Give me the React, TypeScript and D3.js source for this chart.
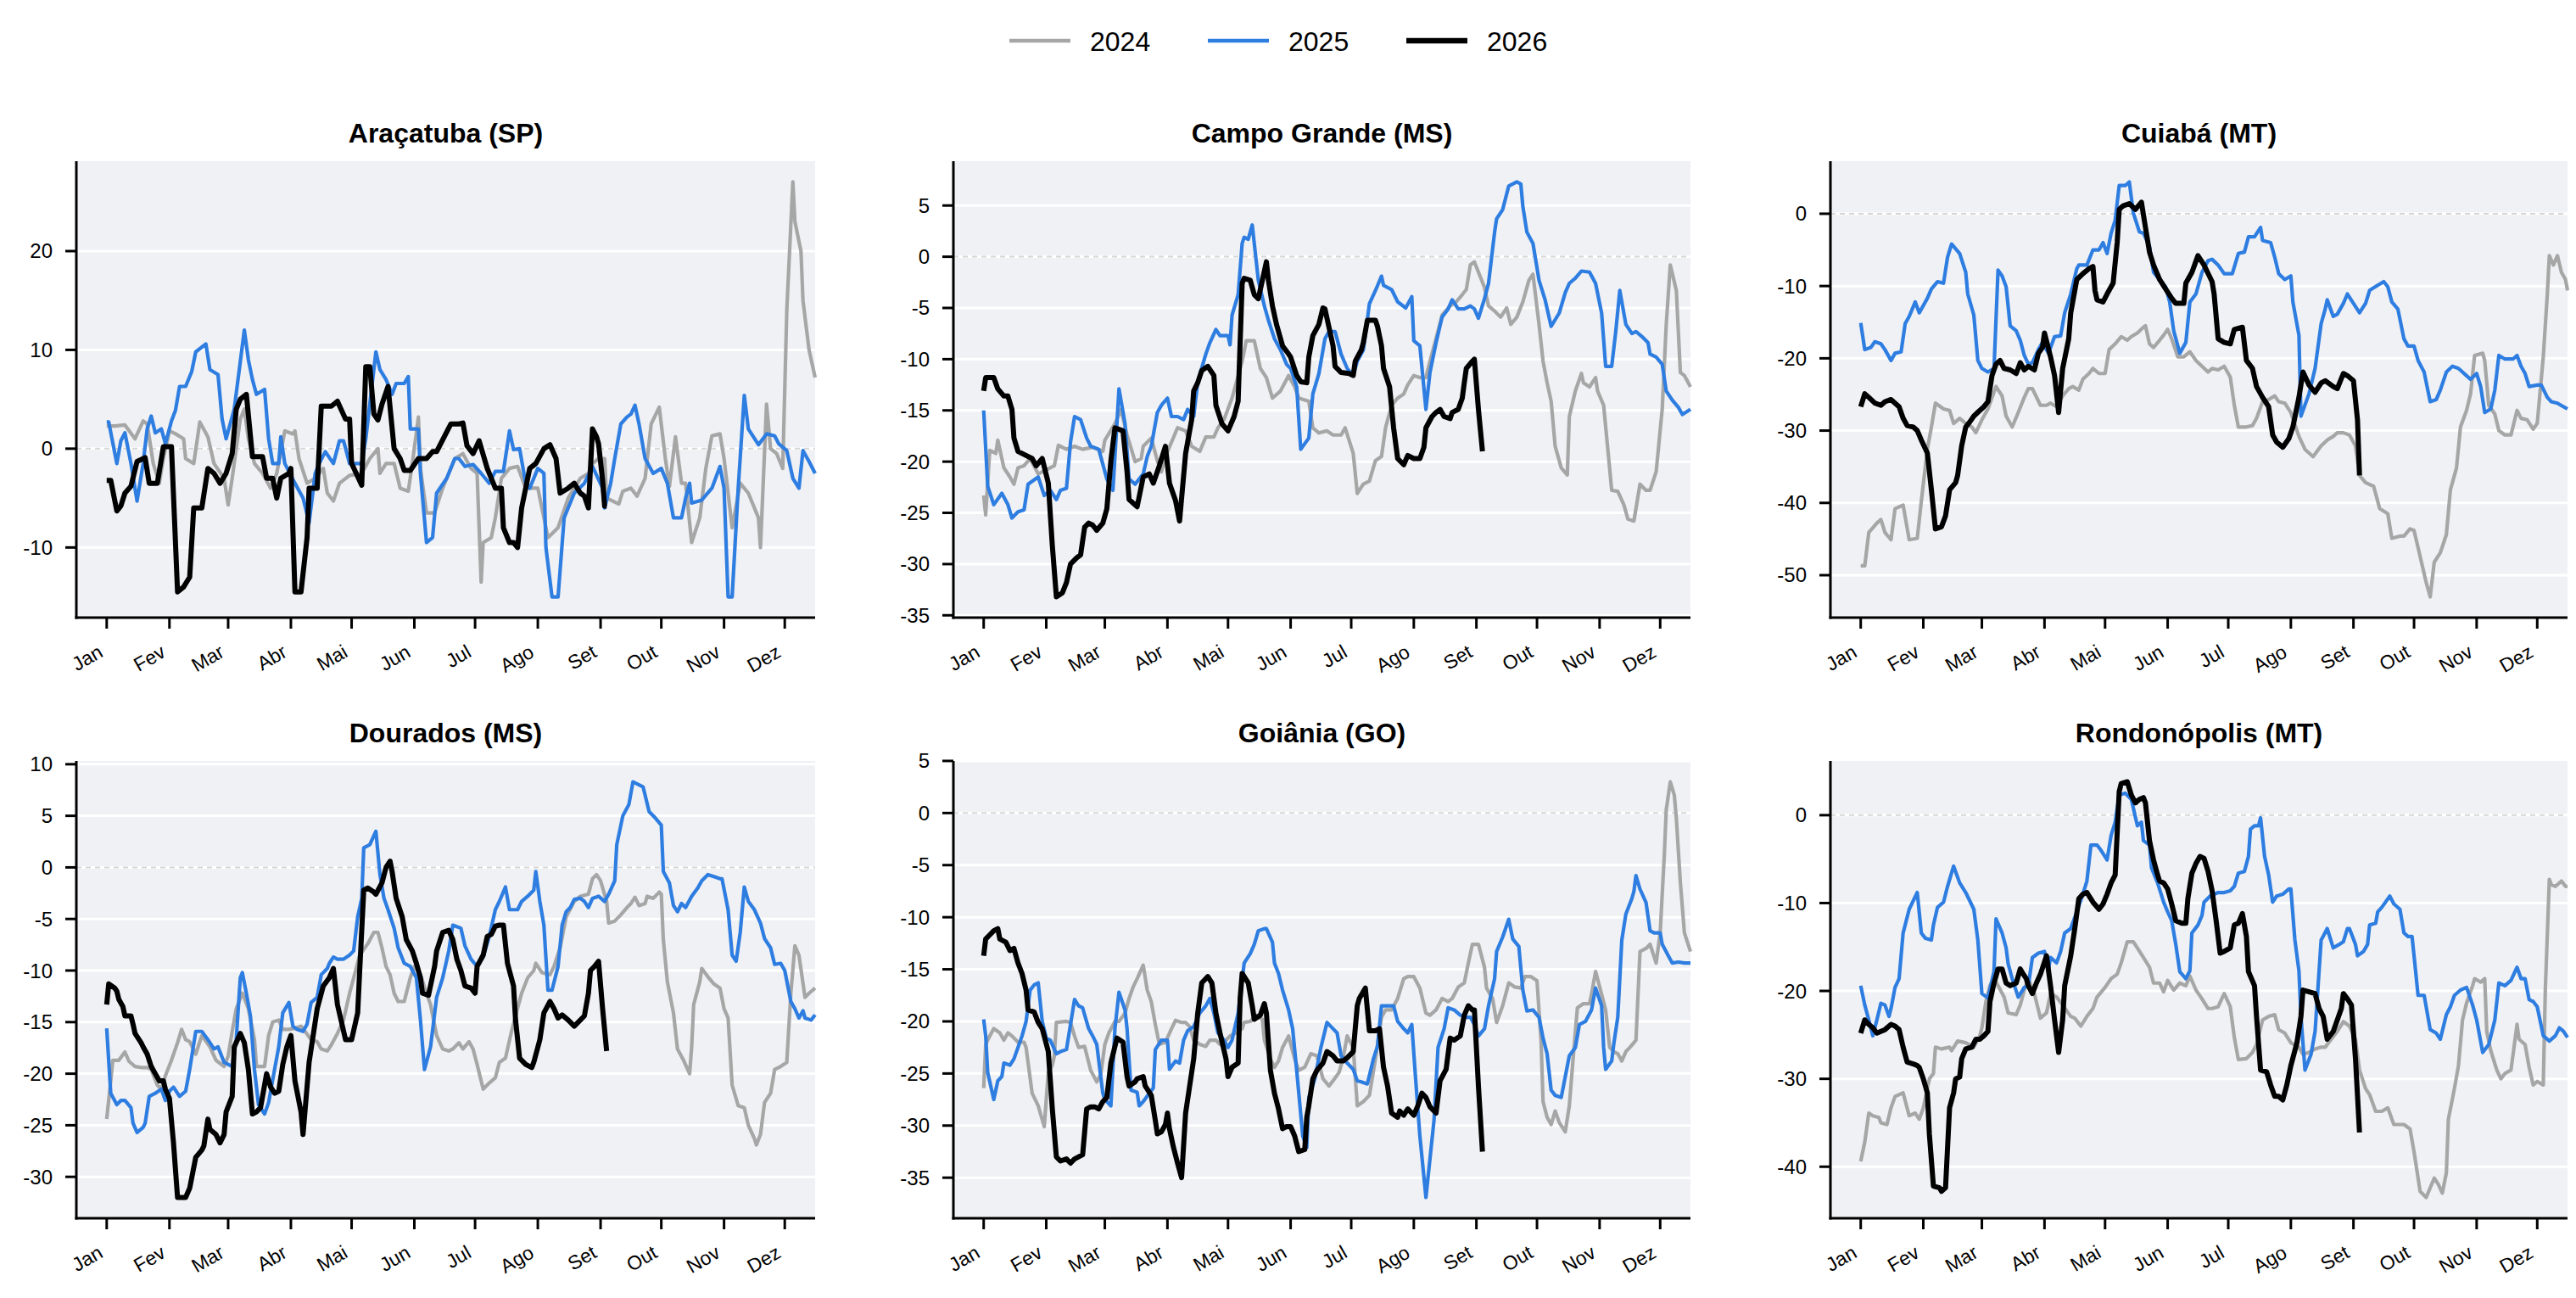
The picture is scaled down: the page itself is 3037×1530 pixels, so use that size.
import React from 'react';
import * as d3 from 'd3';

type Pt = [number, number];

const years = ['2024', '2025', '2026'];
const seriesColors = ['#a6a6a6', '#2e7de1', '#000000'];
const seriesWidths = [4.2, 4.2, 6];
const monthLabels = ['Jan', 'Fev', 'Mar', 'Abr', 'Mai', 'Jun', 'Jul', 'Ago', 'Set', 'Out', 'Nov', 'Dez'];
const monthStartDays = [0, 31, 60, 91, 121, 152, 182, 213, 244, 274, 305, 335];
const cityNames = ['Araçatuba (SP)', 'Campo Grande (MS)', 'Cuiabá (MT)', 'Dourados (MS)', 'Goiânia (GO)', 'Rondonópolis (MT)'];
const yTickSteps = [10, 5, 10, 5, 5, 10];
const xDomain: [number, number] = [-15, 350];

// ---- Araçatuba (SP) ----
const aracatuba2024: Pt[] = [[0,2.3],[4,2.3],[9,2.4],[14,1],[18,2.8],[20,2.5],[23,-1.5],[26,-3.5],[28,-1],[31,1.8],[34,1.5],[38,1],[39,-1],[43,-1.5],[46,2.7],[50,1.2],[53,-1.5],[58,-3],[60,-5.7],[62,-3],[66,3],[68,4],[70,1],[73,-1.5],[77,-2.5],[81,-4],[84,-2.5],[88,1.8],[92,1.5],[93,1.8],[95,-1],[99,-3.5],[103,-3],[107,-2],[109,-4.5],[112,-5.3],[115,-3.5],[120,-2.7],[126,-2.5],[130,-1],[134,0],[135,-2.5],[138,-1.5],[142,-1.5],[145,-4],[149,-4.3],[151,-1.5],[154,3.2],[155,-2],[158,-6.5],[162,-6.5],[166,-4],[172,-1],[176,-0.5],[180,-2],[183,-2.5],[185,-13.5],[186,-9.5],[190,-9],[192,-7],[195,-3],[199,-2],[203,-1.8],[207,-4],[213,-4],[218,-9],[223,-8],[228,-5],[234,-3],[238,-2.5],[240,-1.5],[243,-1],[246,-1],[247,-5],[253,-5.6],[255,-4.3],[259,-4],[262,-4.8],[266,-3],[269,2.5],[273,4.2],[276,-1],[278,-3.8],[281,1.2],[284,-3.5],[286,-3.5],[289,-9.5],[293,-7],[296,-2],[299,1.3],[303,1.5],[305,-1],[309,-8],[313,-3.5],[317,-4.5],[322,-7],[323,-10],[326,4.5],[328,0],[331,-0.5],[334,-2],[336,14],[339,27],[340,23],[343,20],[344,15],[347,10],[350,7.2]];
const aracatuba2025: Pt[] = [[0,2.7],[1,2.7],[5,-1.5],[7,0.8],[9,1.6],[12,-1.5],[15,-5.3],[18,-1.5],[20,2],[22,3.3],[24,1.6],[27,2],[29,0.5],[32,2.8],[34,3.9],[36,6.3],[39,6.3],[42,7.8],[44,9.8],[49,10.6],[51,8],[55,7.5],[57,3],[59,1],[61,2.5],[63,4],[68,12],[70,9],[72,7],[74,5.5],[78,6],[80,1],[82,-1.5],[85,-1.5],[86,1.2],[88,-1.5],[93,-3.5],[97,-5],[100,-7.5],[103,-2.5],[105,-1.5],[108,-0.3],[112,-1.5],[115,0.8],[117,0.8],[120,-1.5],[126,-1.5],[128,1],[133,9.8],[135,8],[138,7],[141,5.5],[143,6.6],[147,6.6],[149,7.3],[150,2],[154,2],[155,-2.5],[158,-9.5],[161,-9],[163,-4.5],[168,-3],[170,-2],[172,-1],[174,-1],[177,-1.8],[181,-1.6],[185,-2.5],[189,-3.5],[192,-2.3],[196,-2.3],[199,1.8],[201,-0.1],[204,0],[207,-3.5],[209,-4],[213,-2],[216,-2.5],[217,-10],[220,-15],[223,-15],[226,-7],[228,-6],[231,-4.5],[236,-3.5],[240,-1.8],[245,-4],[246,-6],[249,-3.5],[251,-1],[254,2.5],[257,3.2],[259,3.5],[261,4.4],[263,2.5],[266,-1],[270,-2.5],[274,-2],[277,-3.5],[280,-7],[284,-7],[286,-5],[288,-3.5],[289,-5.5],[294,-5.2],[299,-4],[303,-1.8],[305,-4],[307,-15],[309,-15],[312,-4],[315,5.4],[317,2],[322,0.4],[326,1.5],[330,1.3],[332,0.5],[336,-0.2],[339,-3],[342,-4],[344,-0.2],[347,-1.3],[350,-2.5]];
const aracatuba2026: Pt[] = [[0,-3.2],[2,-3.2],[5,-6.3],[7,-5.8],[9,-4.5],[12,-3.8],[15,-1.3],[19,-0.9],[21,-3.5],[25,-3.5],[28,0.2],[32,0.2],[35,-14.5],[38,-14],[41,-13],[43,-6],[47,-6],[50,-2],[53,-2.5],[56,-3.5],[59,-2.5],[62,-0.5],[64,4],[66,5],[69,5.5],[72,-0.8],[77,-0.8],[79,-3],[82,-3],[84,-5],[86,-3],[90,-2.5],[91,-2],[93,-14.5],[96,-14.5],[99,-9],[100,-4],[104,-4],[106,4.3],[111,4.3],[114,4.8],[118,3],[120,3],[121,-1.5],[126,-3.7],[128,8.3],[130,8.3],[132,3.5],[134,2.9],[136,4.5],[139,6.3],[142,0],[145,-1],[147,-2.2],[150,-2.2],[154,-1],[158,-1],[161,-0.3],[163,-0.3],[168,1.7],[170,2.5],[174,2.5],[176,2.6],[178,0.3],[181,-0.5],[184,0.8],[188,-2],[192,-4],[195,-4],[196,-8],[199,-9.5],[201,-9.5],[203,-10],[205,-6],[209,-2],[212,-1.5],[216,0],[219,0.4],[222,-1],[224,-4.5],[228,-4],[231,-3.5],[234,-4.5],[236,-4.8],[238,-6],[240,2],[242,1.2],[243,0.5],[245,-3.2],[246,-5.8],[247,-5.8]];

// ---- Campo Grande (MS) ----
const campoGrande2024: Pt[] = [[0,-23.3],[1,-25.2],[3,-18.9],[6,-19.2],[7,-17.9],[10,-20.6],[13,-21.5],[15,-22.2],[17,-20.6],[20,-20.4],[23,-19.7],[27,-21.2],[31,-20.8],[35,-20.4],[37,-18.4],[41,-18.8],[45,-18.5],[49,-18.8],[54,-18.6],[59,-19],[60,-17.9],[65,-16.3],[68,-14.9],[71,-17.4],[75,-20],[78,-19.7],[79,-18.5],[83,-17.7],[86,-19.9],[88,-21],[90,-19.5],[93,-18.1],[96,-16.7],[100,-17],[103,-18.5],[107,-19],[110,-17.6],[114,-17.6],[116,-16.7],[119,-15.9],[123,-13.8],[128,-10.2],[130,-8.2],[134,-8.2],[137,-10.9],[140,-11.8],[143,-13.8],[147,-13.1],[151,-11.6],[154,-12.7],[156,-13.8],[161,-14.1],[163,-16.7],[166,-17.2],[170,-17],[173,-17.4],[177,-17.4],[179,-16.7],[183,-19.2],[185,-23.1],[188,-22.2],[191,-21.9],[194,-19.9],[197,-19.5],[199,-16.7],[202,-14.5],[205,-13.8],[208,-13.4],[210,-12.5],[213,-11.6],[216,-11.8],[219,-11.8],[221,-10.2],[224,-8],[227,-5.7],[231,-4.8],[234,-4.4],[237,-3.7],[239,-3.2],[241,-0.8],[243,-0.5],[245,-1.5],[248,-3],[250,-4.8],[253,-5.3],[256,-5.9],[259,-5],[261,-6.6],[264,-5.9],[267,-4.4],[270,-2.3],[272,-1.7],[275,-6.6],[277,-10.2],[279,-12.3],[281,-14.1],[283,-18.5],[286,-20.6],[289,-21.3],[290,-15.6],[293,-13.1],[296,-11.4],[297,-12.3],[300,-12.7],[303,-11.8],[304,-13.1],[307,-14.5],[311,-22.8],[314,-22.9],[317,-24.2],[319,-25.6],[322,-25.8],[325,-22.2],[328,-22.8],[330,-22.8],[333,-21],[336,-14.9],[338,-6.6],[340,-0.8],[343,-3.3],[345,-11.3],[347,-11.6],[350,-12.7]];
const campoGrande2025: Pt[] = [[0,-15],[2,-22.4],[5,-24.2],[9,-23.1],[12,-24.2],[14,-25.5],[17,-24.9],[20,-24.7],[22,-22.2],[27,-21.5],[30,-23.3],[33,-22.8],[36,-23.7],[38,-22.8],[41,-22.6],[43,-18.1],[45,-15.6],[48,-15.9],[51,-17.7],[53,-18.5],[57,-18.8],[61,-21.7],[64,-22.8],[67,-12.9],[70,-16.3],[72,-21.7],[75,-22.2],[79,-21.2],[81,-19.5],[83,-18.5],[86,-15.2],[88,-14.5],[91,-13.8],[93,-15.6],[96,-15.6],[99,-15.9],[101,-14.9],[104,-15.6],[106,-12.2],[110,-9.5],[112,-8.4],[115,-7.1],[117,-7.7],[121,-7.7],[122,-8.6],[123,-5.7],[126,-3.7],[128,1.3],[129,1.9],[131,1.7],[133,3.1],[136,-2.3],[139,-4.8],[141,-6.2],[144,-8],[147,-9.1],[150,-10.5],[152,-10.9],[155,-12.7],[157,-18.8],[161,-17.7],[163,-13.4],[166,-11.4],[169,-8],[171,-7.3],[174,-7.3],[177,-9.5],[180,-10.9],[183,-11.6],[185,-10.2],[188,-9.1],[191,-4.6],[194,-3.3],[197,-1.9],[198,-2.8],[202,-3.2],[205,-4.4],[209,-5],[212,-3.9],[213,-8.2],[216,-8.7],[219,-14.9],[221,-11.3],[224,-8.4],[227,-5.9],[230,-5.1],[232,-4.2],[235,-5.1],[238,-5.1],[241,-4.8],[243,-5.1],[245,-6],[248,-4.1],[250,-2.6],[253,2.4],[254,3.7],[257,4.6],[260,6.9],[264,7.3],[266,7.1],[267,4.9],[269,2.4],[272,1.3],[275,-2.3],[278,-4.2],[281,-6.8],[285,-5.5],[288,-3.5],[290,-2.6],[293,-2.1],[296,-1.4],[300,-1.5],[303,-2.6],[306,-5.5],[308,-10.7],[311,-10.7],[313,-7.3],[315,-3.3],[318,-6.6],[321,-7.5],[323,-7.3],[326,-7.8],[329,-8.4],[330,-9.5],[333,-9.8],[336,-10.5],[338,-13.1],[341,-14],[344,-14.7],[346,-15.4],[350,-14.9]];
const campoGrande2026: Pt[] = [[0,-13.1],[1,-11.8],[5,-11.8],[7,-12.9],[10,-13.6],[12,-13.6],[14,-14.9],[15,-17.7],[17,-19],[21,-19.4],[24,-19.7],[26,-20.4],[29,-19.7],[32,-22.1],[34,-28.2],[36,-33.2],[39,-32.8],[41,-31.8],[43,-30],[46,-29.4],[48,-29.1],[50,-26.4],[52,-26],[54,-26.2],[56,-26.7],[59,-26],[61,-24.6],[63,-19.9],[65,-16.7],[69,-17],[71,-21],[72,-23.7],[76,-24.4],[79,-21.5],[82,-21.2],[84,-22.1],[87,-20.4],[90,-18.5],[92,-22.1],[95,-23.8],[97,-25.8],[100,-19.2],[103,-15.9],[104,-13.1],[106,-12.3],[108,-11.1],[111,-10.7],[114,-11.6],[115,-14.5],[118,-16.3],[121,-17],[124,-15.6],[126,-14.1],[128,-2.6],[129,-2.1],[132,-2.3],[134,-3.7],[136,-4.1],[138,-2.3],[140,-0.5],[141,-2.3],[143,-4.8],[145,-6.6],[148,-8.7],[151,-9.5],[152,-9.8],[155,-11.6],[157,-12.2],[160,-12.3],[161,-9.8],[163,-7.7],[166,-6.6],[168,-5],[169,-5.1],[171,-6.9],[173,-8.7],[174,-10.7],[177,-11.3],[181,-11.4],[183,-11.6],[184,-10.2],[187,-9.1],[188,-8.4],[190,-6.2],[194,-6.2],[195,-6.8],[197,-8.7],[198,-10.9],[201,-12.7],[203,-16.7],[205,-19.7],[208,-20.3],[210,-19.4],[213,-19.7],[216,-19.7],[218,-18.6],[219,-16.7],[222,-15.6],[224,-15.2],[226,-14.9],[228,-15.6],[231,-15.8],[232,-15.2],[235,-14.9],[237,-13.8],[238,-12.3],[239,-10.9],[242,-10.2],[243,-10],[245,-14.9],[247,-19]];

// ---- Cuiabá (MT) ----
const cuiaba2024: Pt[] = [[0,-48.7],[2,-48.7],[4,-44.1],[8,-42.8],[10,-42.3],[12,-44.1],[15,-45.1],[17,-40.8],[21,-40.3],[24,-45.1],[28,-44.9],[30,-39.8],[33,-32.6],[35,-29.5],[37,-26.2],[41,-27],[44,-27.2],[46,-29],[49,-28.3],[52,-29],[55,-29.5],[57,-30.3],[60,-28.5],[63,-27],[67,-23.9],[70,-25.2],[72,-28],[75,-29.5],[78,-27.5],[81,-25.4],[83,-24.2],[85,-24.2],[89,-26.5],[92,-26.5],[94,-26.2],[97,-26.7],[100,-25.2],[103,-24.2],[105,-23.9],[108,-24.4],[110,-22.9],[113,-22.1],[115,-21.4],[118,-22.1],[121,-22.1],[123,-18.8],[126,-18],[129,-17],[132,-17.5],[134,-17],[137,-16.5],[140,-15.7],[141,-15.5],[143,-18],[145,-18.5],[148,-17.5],[150,-16.8],[152,-16],[154,-17.3],[157,-19.8],[160,-19.8],[163,-19.1],[166,-20.3],[169,-21.1],[172,-21.9],[174,-21.4],[177,-21.6],[180,-21.1],[183,-22.6],[185,-26.5],[187,-29.5],[191,-29.5],[194,-29.3],[196,-28.3],[199,-26],[202,-25.7],[205,-25.2],[207,-26],[210,-26.2],[213,-27.5],[217,-30.8],[220,-32.6],[224,-33.6],[228,-32.1],[231,-31.3],[234,-30.8],[236,-30.3],[239,-30.3],[242,-30.6],[245,-32.1],[247,-36.2],[250,-37.2],[254,-37.7],[257,-40.8],[261,-41.5],[263,-44.9],[267,-44.6],[269,-44.6],[272,-43.6],[274,-43.8],[277,-47.4],[280,-51],[282,-53],[284,-48.2],[287,-46.9],[290,-44.4],[292,-38.2],[295,-35.2],[297,-29.5],[300,-27.2],[302,-24.9],[304,-19.6],[308,-19.3],[309,-20.3],[311,-26.5],[314,-27.7],[316,-30],[319,-30.6],[322,-30.6],[325,-27.2],[327,-28.3],[330,-28.5],[333,-29.8],[335,-29],[338,-19.8],[340,-11.1],[341,-5.8],[343,-7.1],[345,-5.8],[347,-8.1],[349,-9.1],[350,-10.6]];
const cuiaba2025: Pt[] = [[0,-15.1],[2,-18.8],[5,-18.5],[7,-17.7],[10,-18],[12,-18.8],[15,-20.3],[17,-19.3],[20,-19.1],[22,-15.2],[24,-14.2],[27,-12.2],[29,-13.7],[33,-11.7],[35,-10.4],[38,-9.4],[41,-9.6],[43,-6],[45,-4.2],[49,-5.5],[52,-8.1],[53,-11.1],[56,-14],[58,-20.3],[60,-21.4],[63,-21.9],[66,-21.4],[68,-7.8],[70,-8.6],[72,-10.1],[74,-15.5],[77,-16.2],[79,-17.5],[81,-19.6],[83,-20.8],[85,-20.6],[88,-18.8],[90,-17.8],[93,-19.3],[96,-17],[99,-16.9],[101,-13.7],[104,-11.1],[107,-7.6],[108,-7.1],[112,-7.1],[115,-5],[118,-5],[120,-4],[122,-5.5],[124,-2.7],[126,-0.9],[128,3.9],[131,3.9],[133,4.4],[135,0.1],[138,-2.5],[140,-2.7],[143,-4.5],[145,-8.1],[148,-9.1],[151,-10.1],[153,-12.2],[155,-16.2],[158,-19.3],[161,-17.8],[163,-12.2],[166,-11.1],[169,-8.1],[172,-6.5],[174,-6.3],[177,-7.1],[180,-8.3],[184,-8.3],[187,-5.5],[190,-5.3],[192,-3.2],[195,-3.2],[198,-1.9],[199,-3.7],[203,-4],[205,-6],[207,-8.3],[210,-9.1],[213,-8.6],[214,-12.2],[217,-16.8],[218,-28],[222,-24.9],[225,-21.4],[228,-15.2],[230,-13.2],[231,-11.9],[234,-14.2],[236,-13.9],[239,-12.4],[241,-11.1],[244,-12.4],[247,-13.7],[250,-12.4],[252,-10.6],[256,-9.9],[259,-9.4],[261,-10.1],[263,-12.2],[266,-13.2],[269,-17.3],[271,-18.3],[274,-18.3],[276,-20.3],[279,-21.9],[282,-26],[285,-25.7],[287,-24.4],[290,-21.9],[293,-21.1],[296,-21.4],[300,-22.4],[302,-22.9],[305,-22.1],[307,-23.9],[309,-27.5],[312,-27],[314,-24.4],[316,-19.6],[319,-20.1],[323,-20.1],[325,-19.6],[327,-21.1],[329,-22.1],[331,-23.9],[335,-23.7],[337,-23.7],[340,-25.4],[342,-26],[345,-26.2],[348,-26.7],[350,-27]];
const cuiaba2026: Pt[] = [[0,-26.7],[2,-24.9],[4,-25.4],[7,-26.2],[10,-26.5],[12,-26],[15,-25.7],[17,-26.2],[19,-26.7],[21,-28.3],[23,-29.3],[26,-29.5],[28,-30],[30,-31.3],[33,-33.1],[35,-38.2],[37,-43.6],[40,-43.3],[42,-41.8],[44,-38.2],[47,-37.2],[48,-36.2],[50,-32.1],[52,-29.5],[54,-28.8],[56,-28],[59,-27.2],[61,-26.7],[63,-26],[65,-22.4],[67,-20.8],[69,-20.3],[71,-21.4],[74,-21.6],[77,-22.1],[79,-20.6],[81,-21.6],[83,-21.1],[86,-21.6],[88,-19.3],[90,-18.5],[91,-16.5],[94,-19.8],[96,-22.4],[98,-27.5],[100,-21.4],[103,-17.3],[104,-13.7],[107,-9.1],[110,-8.3],[113,-7.6],[115,-7.3],[116,-10.6],[117,-11.9],[120,-12.2],[122,-11.1],[125,-9.6],[127,-4],[128,0.6],[130,1.1],[133,1.4],[136,0.6],[139,1.6],[141,-1.9],[143,-5.3],[145,-7.1],[148,-9.1],[151,-10.4],[154,-11.7],[156,-12.4],[160,-12.4],[161,-9.6],[164,-8.1],[167,-5.8],[170,-7.1],[174,-9.4],[175,-11.1],[177,-17.3],[180,-17.8],[183,-18],[185,-16],[189,-15.7],[191,-20.3],[194,-21.4],[196,-23.9],[199,-25.4],[202,-26.7],[204,-30.6],[206,-31.6],[209,-32.3],[212,-31.1],[214,-29.5],[217,-25.4],[219,-21.9],[222,-23.7],[225,-24.7],[228,-23.4],[230,-23.1],[234,-23.9],[236,-24.2],[239,-22.1],[241,-22.4],[244,-23.1],[246,-28.5],[247,-36.2]];

// ---- Dourados (MS) ----
const dourados2024: Pt[] = [[0,-24.4],[2,-20.7],[3,-18.7],[6,-18.7],[9,-17.9],[11,-18.8],[14,-19.3],[17,-19.4],[20,-19.4],[22,-19.6],[25,-21.1],[27,-21.5],[29,-20.2],[32,-18.7],[35,-17],[37,-15.7],[39,-16.7],[41,-16.9],[44,-18.1],[47,-16.3],[51,-17.4],[54,-18.7],[58,-19.3],[60,-18.3],[62,-15.9],[64,-13.7],[67,-12.2],[70,-13.7],[73,-16.7],[74,-19.3],[78,-19.3],[80,-16.3],[82,-15],[85,-14.8],[87,-15.7],[90,-15.7],[93,-15.6],[96,-15.4],[98,-15.9],[101,-16.7],[104,-16.9],[106,-17.6],[109,-17.8],[111,-17.2],[114,-16.1],[117,-14.8],[120,-12.2],[123,-10],[125,-8.5],[129,-7.4],[132,-6.3],[134,-6.3],[136,-7.8],[138,-9.6],[140,-10.4],[142,-12.2],[144,-13],[147,-13],[150,-10.7],[152,-9.6],[155,-10.4],[158,-12.2],[160,-13.3],[163,-16.3],[166,-17.6],[169,-17.8],[171,-17.6],[174,-17],[176,-17.6],[179,-16.9],[181,-17.6],[183,-19.1],[186,-21.5],[189,-20.9],[192,-20.4],[194,-18.9],[197,-18.5],[200,-15.9],[202,-14.4],[205,-12.2],[208,-10.7],[211,-10],[212,-9.3],[215,-10.2],[219,-10.4],[221,-9.6],[224,-7.8],[227,-4.8],[231,-3.3],[234,-2.8],[238,-2.6],[240,-1.1],[242,-0.7],[244,-1.3],[247,-3.3],[248,-5.4],[251,-5.2],[254,-4.6],[257,-3.9],[259,-3.5],[261,-2.9],[263,-3.7],[266,-3.5],[267,-2.8],[270,-3],[273,-2.4],[274,-2.6],[275,-7],[277,-11.1],[280,-14.1],[282,-17.6],[285,-18.7],[288,-20],[289,-17.4],[290,-13.3],[293,-11.1],[294,-9.8],[297,-10.6],[300,-11.3],[303,-11.7],[305,-13.7],[307,-14.6],[309,-21.1],[312,-23.1],[315,-23.3],[317,-25],[320,-26.3],[321,-26.9],[323,-25.9],[325,-22.8],[328,-21.9],[330,-19.6],[333,-19.3],[336,-18.9],[338,-12.2],[340,-7.6],[342,-8.5],[345,-12.6],[347,-12.2],[350,-11.7]];
const dourados2025: Pt[] = [[0,-15.6],[2,-21.9],[5,-23],[7,-22.6],[9,-22.6],[12,-23.3],[13,-24.8],[15,-25.7],[18,-25.2],[19,-24.8],[21,-22.2],[24,-21.9],[27,-21.5],[29,-22.6],[31,-21.7],[33,-21.3],[36,-22.2],[39,-21.7],[41,-19.6],[44,-15.9],[47,-15.9],[50,-16.7],[53,-17.6],[55,-17.4],[58,-18.9],[62,-19.3],[64,-16.7],[66,-10.7],[67,-10.2],[69,-12.2],[71,-14.4],[73,-19.6],[75,-23],[78,-23.9],[80,-22.8],[82,-20.6],[85,-17.4],[87,-14.1],[90,-13.1],[92,-15.4],[94,-15.7],[97,-15.9],[99,-15.2],[101,-13.1],[104,-12.6],[106,-10.4],[109,-9.8],[110,-9.3],[112,-8.7],[114,-8.9],[117,-8.9],[120,-8.5],[122,-8.1],[124,-4.8],[126,-3],[127,1.9],[130,2.2],[133,3.5],[135,-0.7],[137,-3],[139,-4.1],[142,-5.9],[144,-7.8],[147,-9.3],[150,-9.6],[153,-10.7],[155,-14.8],[157,-19.6],[160,-17.4],[163,-12.6],[166,-10.7],[169,-8.1],[171,-5.6],[175,-5.9],[177,-7.6],[180,-8.9],[183,-9.6],[186,-8.7],[189,-6.7],[192,-4.1],[194,-3.3],[197,-1.9],[199,-4.1],[203,-4.1],[205,-3.3],[208,-2.8],[211,-2.2],[212,-0.4],[214,-3.3],[216,-5.6],[218,-11.9],[220,-11.9],[223,-9.6],[225,-5.6],[227,-4.3],[229,-3.9],[231,-3.1],[234,-3],[236,-3.3],[238,-3.9],[240,-3],[243,-2.8],[246,-3.3],[248,-2.6],[251,-1.3],[252,2.2],[255,5],[258,6.1],[260,8.3],[263,8],[265,7.8],[268,5.4],[271,4.8],[274,4.1],[275,-0.4],[278,-1.5],[280,-3.7],[282,-4.3],[284,-3.5],[286,-3.9],[289,-2.8],[292,-2],[294,-1.3],[297,-0.7],[300,-0.9],[303,-1.1],[304,-1.1],[307,-4.1],[309,-8.5],[311,-9.1],[313,-6.3],[315,-1.9],[317,-3.3],[320,-4.1],[323,-5.4],[325,-6.9],[328,-7.8],[330,-9.4],[333,-9.3],[335,-10],[338,-13],[340,-13.7],[342,-14.6],[344,-13.9],[345,-14.6],[348,-14.8],[350,-14.3]];
const dourados2026: Pt[] = [[0,-13.3],[1,-11.3],[4,-11.7],[5,-12],[6,-12.8],[8,-13.5],[9,-14.4],[12,-14.4],[13,-15.2],[14,-16.1],[17,-17],[18,-17.4],[20,-18.1],[22,-19.3],[24,-20],[26,-20.7],[28,-20.7],[29,-21.5],[31,-22.4],[33,-26.7],[35,-32],[39,-32],[41,-31.1],[44,-28.1],[47,-27.4],[48,-27],[50,-24.4],[51,-25.4],[54,-25.9],[56,-26.7],[58,-25.9],[59,-23.7],[62,-22.2],[63,-17.4],[66,-16.1],[68,-17],[70,-19.6],[72,-23.9],[74,-23.7],[76,-23.3],[79,-20],[81,-21.3],[83,-21.9],[85,-21.7],[87,-19.1],[89,-17.4],[91,-16.3],[93,-20.7],[96,-23.7],[97,-25.9],[100,-18.9],[102,-16.3],[104,-13.7],[107,-11.5],[110,-10.7],[112,-9.8],[114,-13.3],[118,-16.7],[121,-16.7],[124,-14.1],[125,-10],[127,-2.2],[129,-2],[132,-2.4],[133,-2.6],[136,-1.5],[138,0],[140,0.6],[141,-0.4],[143,-3],[146,-4.8],[148,-7],[151,-8.1],[153,-9.3],[155,-10.7],[156,-12.2],[159,-12.4],[162,-9.6],[163,-8.1],[166,-6.3],[169,-6.1],[171,-7],[173,-8.9],[175,-10],[177,-11.5],[180,-11.7],[182,-12.2],[183,-9.6],[186,-8.5],[188,-6.7],[190,-6.5],[192,-5.7],[194,-5.6],[196,-5.6],[198,-9.3],[201,-11.5],[202,-14.8],[204,-18.5],[207,-19.1],[210,-19.4],[211,-18.9],[214,-16.7],[216,-14.1],[219,-13],[221,-13.7],[223,-14.6],[225,-14.3],[228,-14.8],[231,-15.4],[234,-14.8],[236,-14.4],[238,-12.2],[239,-10],[241,-9.6],[243,-9.1],[245,-13.7],[247,-17.8]];

// ---- Goiânia (GO) ----
const goiania2024: Pt[] = [[0,-26.4],[1,-22.2],[3,-21.4],[5,-20.7],[8,-21.1],[10,-21.8],[12,-21.1],[14,-21.4],[17,-22],[20,-22],[21,-22.5],[24,-26.9],[27,-28.1],[30,-30.1],[32,-24.9],[34,-24.2],[35,-23.3],[36,-20.1],[41,-20],[43,-20.1],[45,-21.4],[47,-22.5],[50,-22.4],[53,-24.7],[56,-25.8],[58,-25.1],[60,-22.2],[62,-21.1],[65,-20],[67,-20],[70,-19.2],[72,-17.8],[74,-16.7],[76,-15.9],[79,-14.6],[81,-17],[83,-18.1],[85,-20.3],[87,-22.2],[90,-22],[93,-20.7],[95,-19.9],[98,-20.1],[100,-20.1],[102,-20.5],[104,-21.8],[107,-22.2],[110,-22.4],[112,-21.8],[115,-21.8],[117,-22.2],[120,-21.8],[122,-21.4],[125,-21.1],[128,-20.7],[129,-20.1],[132,-20],[135,-19.4],[138,-19.8],[139,-21.8],[142,-23.6],[144,-24.4],[146,-23.8],[148,-22.5],[151,-21.4],[154,-23.6],[156,-24.7],[159,-24.4],[162,-23.1],[165,-23.3],[168,-25.5],[171,-26.2],[173,-25.7],[176,-24.9],[178,-23.5],[180,-21.4],[183,-22.5],[185,-28.1],[188,-27.7],[191,-27.1],[194,-23.6],[197,-19.6],[199,-18.9],[202,-18.9],[205,-17.8],[208,-15.9],[210,-15.7],[213,-15.7],[216,-16.8],[219,-19.2],[221,-19.4],[224,-18.9],[227,-17.8],[230,-18.1],[232,-17.8],[235,-16.7],[238,-16.3],[240,-14.4],[242,-12.6],[245,-12.6],[248,-14.8],[249,-16.8],[252,-17.8],[254,-20.1],[257,-18.5],[260,-16.3],[263,-16.7],[266,-16.8],[268,-15.7],[271,-15.7],[274,-16.1],[276,-21.8],[277,-27.7],[279,-29.2],[281,-29.9],[283,-28.6],[285,-29.7],[288,-30.6],[290,-28.1],[292,-23.3],[294,-18.7],[297,-18.3],[300,-18.3],[301,-17.4],[303,-15.2],[306,-17.4],[308,-18.9],[310,-22.5],[312,-22.9],[314,-23.1],[316,-23.8],[318,-22.9],[320,-22.5],[323,-21.8],[325,-13.3],[328,-13],[330,-12.6],[333,-14.4],[335,-11.5],[337,-4.2],[338,0.3],[340,3],[342,1.7],[343,-0.5],[345,-6.7],[347,-11.5],[350,-13.3]];
const goiania2025: Pt[] = [[0,-19.8],[1,-21.4],[2,-24.9],[5,-27.5],[7,-25.7],[9,-25.3],[10,-24],[13,-24.2],[15,-23.6],[17,-22.5],[19,-21.4],[21,-20],[23,-17],[25,-16.5],[27,-16.3],[29,-20],[31,-21.6],[33,-21.8],[36,-23.1],[38,-22.9],[41,-22.7],[43,-20.3],[45,-17.9],[47,-18.5],[49,-18.7],[52,-20.7],[54,-21.4],[56,-22.2],[59,-26.9],[60,-27.5],[63,-28.1],[65,-20.7],[67,-17.2],[70,-18.9],[71,-20.7],[73,-26.6],[76,-26.8],[77,-28.1],[79,-27.7],[82,-26.9],[84,-26.4],[85,-22.7],[88,-21.8],[91,-21.8],[92,-24.6],[95,-23.8],[97,-24],[99,-21.8],[101,-20.9],[104,-20.5],[107,-19.2],[110,-18.5],[112,-17.8],[114,-19.2],[116,-21.1],[119,-21.8],[121,-22.5],[123,-21.8],[126,-19.2],[129,-14.4],[132,-13.5],[134,-12.6],[136,-11.3],[139,-11.1],[140,-11.1],[143,-12.4],[144,-14.4],[146,-15.4],[148,-17],[151,-18.9],[153,-20.7],[155,-24.7],[158,-31],[160,-32.1],[161,-27.3],[164,-25.5],[167,-22.5],[170,-20.1],[172,-20.5],[175,-21.1],[177,-23.3],[180,-24],[183,-24.6],[185,-25.7],[187,-25.8],[190,-26],[193,-23.6],[195,-22.4],[197,-18.5],[199,-18.5],[203,-18.5],[205,-20],[208,-20.7],[210,-21.1],[212,-20.3],[214,-25.8],[216,-31],[219,-36.9],[221,-33.2],[223,-29.5],[225,-22.5],[228,-20.7],[230,-18.7],[233,-18.9],[236,-19.4],[239,-19.6],[241,-19.6],[243,-20.3],[245,-21.4],[248,-20.7],[250,-18.5],[253,-15.9],[254,-13.3],[257,-11.9],[260,-10.2],[262,-12.1],[265,-12.8],[267,-17],[269,-19],[272,-18.9],[275,-19.6],[277,-21.6],[279,-23.1],[281,-26.6],[283,-27.1],[286,-27.3],[288,-25.3],[290,-23.3],[293,-22.5],[295,-20.3],[298,-20],[301,-18.9],[303,-16.8],[306,-18.5],[307,-22.5],[308,-24.6],[311,-23.8],[312,-22.2],[314,-19.6],[316,-12.2],[318,-9.7],[321,-8.2],[322,-7.5],[323,-6],[325,-7.3],[328,-8.6],[330,-11.3],[332,-11.5],[335,-11.5],[336,-12.6],[339,-13.7],[341,-14.4],[344,-14.3],[347,-14.4],[350,-14.4]];
const goiania2026: Pt[] = [[0,-13.7],[1,-12.1],[3,-11.7],[5,-11.3],[7,-11.1],[8,-12.1],[11,-12.4],[13,-13.2],[15,-13],[17,-14.4],[19,-15.4],[21,-17],[22,-18.9],[25,-19.1],[27,-20.1],[29,-20.7],[32,-22.9],[34,-28.4],[36,-33],[38,-33.4],[41,-33.2],[43,-33.6],[45,-33.2],[47,-33],[49,-32.8],[51,-28.4],[53,-28.2],[55,-28.2],[57,-28.4],[59,-27.7],[61,-27.3],[63,-24],[66,-21.6],[69,-22],[71,-25.3],[72,-26.2],[75,-25.8],[76,-25.5],[79,-25.3],[80,-26.2],[83,-27.1],[85,-29.5],[86,-30.8],[88,-30.6],[90,-29.9],[91,-28.8],[92,-30.3],[94,-32.1],[96,-33.6],[98,-35],[100,-28.8],[102,-26.2],[104,-23.6],[106,-19.2],[108,-16.3],[111,-15.7],[113,-16.3],[115,-19.2],[117,-21.1],[120,-23.6],[121,-25.3],[123,-24.4],[126,-24],[127,-17.8],[128,-15.4],[131,-16.3],[133,-18.5],[134,-19.8],[137,-19.4],[139,-18.3],[140,-19.2],[142,-24.7],[144,-26.9],[146,-28.4],[148,-30.3],[150,-30.1],[152,-30.1],[154,-31],[156,-32.5],[159,-32.3],[160,-29.2],[161,-28.1],[163,-25.5],[165,-24.7],[168,-24],[170,-22.9],[173,-23.3],[175,-23.8],[178,-23.8],[180,-23.5],[183,-22.9],[185,-18.5],[186,-17.8],[189,-16.8],[191,-20.9],[194,-20.9],[196,-20.7],[198,-24.4],[200,-26.2],[202,-28.8],[205,-29.2],[206,-28.6],[208,-29],[210,-28.4],[213,-29],[215,-28.1],[217,-26.9],[219,-27.3],[221,-28.2],[224,-28.8],[226,-25.7],[229,-24.6],[231,-21.6],[233,-21.8],[236,-21.4],[238,-19.4],[240,-18.5],[242,-18.9],[243,-18.9],[245,-26.2],[247,-32.5]];

// ---- Rondonópolis (MT) ----
const rondonopolis2024: Pt[] = [[0,-39.4],[2,-37.2],[4,-33.9],[6,-34.2],[9,-34.4],[10,-35],[13,-35.2],[15,-33.3],[17,-32],[21,-31.6],[24,-34.2],[27,-33.9],[29,-34.6],[31,-33.3],[34,-30],[36,-29.4],[37,-26.4],[40,-26.6],[44,-26.4],[45,-26.8],[48,-25.7],[52,-25.9],[56,-26.4],[59,-25.1],[60,-24.2],[62,-21.2],[64,-19.4],[66,-18.6],[68,-19.4],[71,-20.7],[73,-22.5],[77,-22.7],[79,-21.6],[81,-19.9],[83,-18.6],[86,-20.3],[89,-23.1],[92,-22.5],[94,-20.3],[97,-20.7],[100,-21.6],[104,-22.9],[106,-23.1],[109,-24],[112,-22.9],[115,-22],[117,-20.7],[121,-19.6],[124,-18.6],[127,-18.1],[129,-16.8],[132,-14.4],[135,-14.4],[137,-15.1],[140,-16.2],[143,-17.3],[145,-19.1],[148,-19.1],[150,-20.1],[152,-18.8],[155,-19.9],[158,-19.1],[161,-19.4],[163,-18.3],[166,-19.9],[169,-20.9],[172,-22],[174,-22],[177,-21.8],[180,-20.3],[183,-21.8],[185,-25.3],[187,-27.8],[191,-27.7],[194,-27],[196,-26.1],[199,-23.3],[202,-22.9],[205,-22.7],[207,-24.4],[210,-24.8],[213,-25.9],[217,-26.4],[219,-27.2],[222,-27],[225,-26.6],[228,-26.4],[230,-26.4],[233,-25.5],[236,-24.6],[239,-23.5],[242,-24],[245,-25.5],[247,-29],[250,-31.1],[252,-31.8],[255,-33.7],[258,-33.7],[261,-33.3],[264,-35.2],[267,-35.2],[269,-35.2],[272,-35.7],[274,-38.3],[277,-42.8],[280,-43.5],[284,-41.3],[286,-42],[288,-43],[290,-40.7],[291,-34.6],[294,-31.1],[296,-28.5],[298,-23.3],[300,-21.4],[303,-19.4],[304,-18.6],[307,-19],[309,-18.6],[310,-24.6],[312,-26.8],[315,-29],[317,-30],[319,-29.4],[322,-29],[325,-23.8],[326,-25.5],[329,-26.1],[331,-28.7],[333,-30.7],[335,-30.3],[338,-30.7],[339,-19.9],[341,-7.3],[342,-7.9],[344,-8.1],[347,-7.5],[349,-8.1],[350,-8.1]];
const rondonopolis2025: Pt[] = [[0,-19.4],[2,-21.6],[4,-23.3],[6,-25.1],[8,-23.3],[10,-21.4],[12,-21.6],[14,-22.9],[15,-22],[17,-19.6],[19,-18.6],[21,-13.4],[24,-10.7],[28,-8.8],[30,-13.4],[32,-14],[35,-14.2],[36,-12.5],[38,-10.5],[41,-9.9],[43,-8.1],[46,-5.8],[49,-7.7],[52,-8.8],[56,-10.7],[58,-14.2],[60,-20.3],[63,-20.8],[66,-17.8],[67,-11.8],[70,-13.4],[72,-15.1],[73,-16.9],[75,-18.6],[78,-20.7],[81,-19.6],[83,-19.4],[85,-16.2],[88,-15.7],[91,-15.5],[93,-17.5],[94,-16.2],[97,-16.8],[99,-15.5],[101,-13.4],[104,-12.9],[107,-11],[110,-9],[112,-7.5],[114,-3.4],[117,-3.4],[119,-4],[122,-5.1],[124,-2.3],[126,-0.8],[128,2.3],[131,2.5],[134,1.8],[137,-1.2],[139,-0.8],[140,-2.9],[143,-3.4],[144,-6],[147,-7.7],[150,-9.9],[152,-11],[154,-12],[156,-14.7],[158,-17.8],[161,-18.6],[163,-17.7],[164,-13.4],[167,-12.5],[169,-11.4],[170,-9.9],[173,-9.2],[177,-8.8],[180,-8.8],[183,-8.6],[185,-8.1],[187,-6.6],[190,-6.4],[192,-4.7],[193,-1.6],[195,-1.2],[197,-1.2],[198,-0.3],[200,-4.7],[202,-6.8],[204,-9.9],[206,-9.2],[209,-9],[212,-8.4],[213,-8.4],[215,-14.2],[217,-17.7],[218,-22.9],[220,-29],[223,-27.2],[225,-24.6],[228,-14.2],[229,-13.8],[231,-12.9],[234,-15.1],[237,-14.7],[239,-14.4],[241,-12.9],[242,-12.9],[245,-14.7],[246,-16],[249,-15.5],[251,-14.7],[252,-12.5],[255,-12.3],[256,-11],[258,-10.5],[262,-9.2],[264,-10.1],[267,-10.7],[269,-13.4],[271,-13.8],[273,-13.8],[274,-16],[276,-20.5],[279,-20.5],[282,-24.4],[285,-24.8],[287,-25.5],[290,-22.7],[292,-21.8],[294,-20.5],[297,-19.9],[300,-19.6],[303,-21.6],[305,-23.3],[308,-27],[311,-26.1],[314,-23.3],[316,-19.1],[319,-19.4],[322,-18.8],[325,-17.3],[327,-18.6],[329,-18.6],[331,-21],[333,-21.2],[335,-21.8],[338,-25.1],[341,-25.7],[344,-25.1],[346,-24.2],[348,-24.6],[350,-25.3]];
const rondonopolis2026: Pt[] = [[0,-24.8],[2,-23.3],[4,-23.8],[6,-24.2],[8,-24.8],[10,-24.6],[12,-24.4],[14,-24],[15,-23.8],[17,-24],[19,-24.4],[21,-26.4],[23,-28.1],[26,-28.3],[28,-28.5],[29,-28.7],[31,-30],[33,-31.6],[34,-36.3],[36,-42.2],[39,-42.4],[40,-42.8],[42,-42.4],[44,-33.3],[46,-31.6],[47,-30],[49,-29.8],[50,-27.7],[52,-26.6],[55,-26.4],[57,-25.5],[59,-25.5],[61,-25.1],[63,-24.6],[64,-21.2],[66,-19.1],[68,-17.5],[70,-17.5],[72,-19.1],[74,-19.4],[77,-19.1],[79,-17.5],[80,-17.9],[82,-18.6],[83,-19.4],[85,-20.3],[87,-19.1],[89,-18.1],[92,-16],[94,-19.4],[96,-23.3],[98,-27],[100,-23.3],[101,-19.4],[104,-16],[106,-12.9],[108,-9.5],[110,-9],[112,-8.8],[115,-9.9],[118,-10.7],[120,-10.1],[122,-9],[124,-7.7],[126,-6.8],[128,2.7],[129,3.6],[132,3.8],[134,2.3],[136,1.4],[138,1.8],[140,2],[141,1.4],[143,-2.9],[145,-5.1],[147,-6.8],[148,-7.5],[150,-7.7],[152,-8.4],[154,-10.1],[156,-12],[159,-12.3],[161,-12.3],[162,-9.5],[164,-6.6],[166,-5.5],[168,-4.7],[170,-4.9],[172,-6.4],[174,-8.6],[176,-12],[178,-15.7],[180,-15.5],[183,-15.1],[185,-12.5],[187,-12.3],[189,-11.2],[191,-13.8],[192,-17.8],[195,-19.4],[196,-22.9],[198,-29],[201,-29.2],[203,-30.7],[205,-32],[207,-32],[209,-32.4],[211,-30.7],[213,-28.5],[216,-25.9],[218,-22.9],[219,-19.9],[222,-20.1],[225,-20.3],[227,-22],[229,-22.9],[231,-25.5],[234,-24.6],[236,-23.3],[238,-22],[239,-20.3],[241,-20.9],[243,-21.6],[245,-27.7],[247,-36.1]];

const W = 3037;
const H = 1530;
const FONT = "'Liberation Sans', Arial, Helvetica, sans-serif";
const colX: [number, number][] = [[90, 961], [1124, 1993], [2158, 3027]];
const rowY: [number, number][] = [[190, 728], [897, 1436]];

interface PanelProps {
  title: string;
  series: Pt[][];
  step: number;
  col: number;
  row: number;
}

function Panel({ title, series, step, col, row }: PanelProps) {
  const [x0, x1] = colX[col];
  const [y0, y1] = rowY[row];
  const x = d3.scaleLinear().domain(xDomain).range([x0, x1]);
  const vals = series.flatMap((s) => s.map((d) => d[1]));
  const lo = d3.min(vals) as number;
  const hi = d3.max(vals) as number;
  const pad = (hi - lo) * 0.05;
  const y = d3.scaleLinear().domain([lo - pad, hi + pad]).range([y1, y0]);
  const ticks: number[] = [];
  for (let t = Math.ceil((lo - pad) / step) * step; t <= hi + pad + 0.1; t += step) ticks.push(t);
  const line = d3.line<Pt>().x((d) => x(d[0])).y((d) => y(d[1]));

  return (
    <g>
      <rect x={x0} y={y0} width={x1 - x0} height={y1 - y0} fill="#f0f1f5" />
      {ticks.map((t) => (
        <line key={'g' + t} x1={x0} x2={x1} y1={y(t)} y2={y(t)} stroke="#ffffff" strokeWidth={3} />
      ))}
      <line x1={x0} x2={x1} y1={y(0)} y2={y(0)} stroke="#d6d6d6" strokeWidth={2} strokeDasharray="6 5" />
      {series.map((s, i) => (
        <path
          key={'s' + i}
          d={line(s) || ''}
          fill="none"
          stroke={seriesColors[i]}
          strokeWidth={seriesWidths[i]}
          strokeLinejoin="round"
          strokeLinecap="butt"
        />
      ))}
      <line x1={x0} x2={x0} y1={y0} y2={y1 + 1.5} stroke="#000" strokeWidth={3} />
      <line x1={x0 - 1.5} x2={x1} y1={y1} y2={y1} stroke="#000" strokeWidth={3} />
      {ticks.map((t) => (
        <g key={'yt' + t}>
          <line x1={x0 - 13} x2={x0} y1={y(t)} y2={y(t)} stroke="#000" strokeWidth={3} />
          <text
            x={x0 - 28}
            y={y(t)}
            textAnchor="end"
            dominantBaseline="central"
            fontSize={24}
            fontFamily={FONT}
            fill="#000"
          >
            {String(t)}
          </text>
        </g>
      ))}
      {monthStartDays.map((d, i) => (
        <g key={'xt' + i}>
          <line x1={x(d)} x2={x(d)} y1={y1} y2={y1 + 13} stroke="#000" strokeWidth={3} />
          <text
            transform={`translate(${x(d) - 3},${y1 + 45}) rotate(-30)`}
            textAnchor="end"
            fontSize={23}
            fontFamily={FONT}
            fill="#000"
          >
            {monthLabels[i]}
          </text>
        </g>
      ))}
      <text
        x={(x0 + x1) / 2}
        y={y0 - 33}
        textAnchor="middle"
        dominantBaseline="central"
        fontSize={32}
        fontWeight="bold"
        fontFamily={FONT}
        fill="#000"
      >
        {title}
      </text>
    </g>
  );
}

const legendX = [1190, 1424, 1658];

export default function App() {
  const panelSeries: Pt[][][] = [
    [aracatuba2024, aracatuba2025, aracatuba2026],
    [campoGrande2024, campoGrande2025, campoGrande2026],
    [cuiaba2024, cuiaba2025, cuiaba2026],
    [dourados2024, dourados2025, dourados2026],
    [goiania2024, goiania2025, goiania2026],
    [rondonopolis2024, rondonopolis2025, rondonopolis2026],
  ];
  return (
    <svg
      width={W}
      height={H}
      viewBox={`0 0 ${W} ${H}`}
      style={{ position: 'absolute', left: 0, top: 0, display: 'block' }}
    >
      <rect x={0} y={0} width={W} height={H} fill="#ffffff" />
      {years.map((yr, i) => (
        <g key={yr}>
          <line
            x1={legendX[i]}
            x2={legendX[i] + 72}
            y1={48}
            y2={48}
            stroke={seriesColors[i]}
            strokeWidth={i === 2 ? 6.5 : 4.5}
          />
          <text
            x={legendX[i] + 95}
            y={49}
            dominantBaseline="central"
            fontSize={32}
            fontFamily={FONT}
            fill="#000"
          >
            {yr}
          </text>
        </g>
      ))}
      {panelSeries.map((s, i) => (
        <Panel
          key={i}
          title={cityNames[i]}
          series={s}
          step={yTickSteps[i]}
          col={i % 3}
          row={Math.floor(i / 3)}
        />
      ))}
    </svg>
  );
}
